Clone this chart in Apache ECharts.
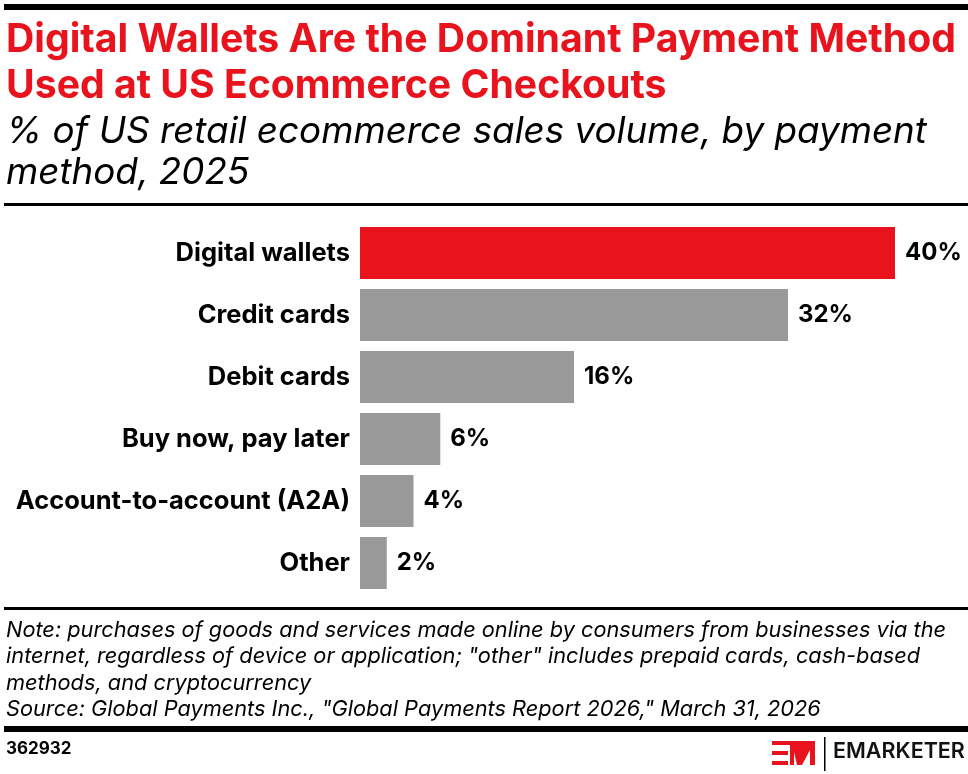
<!DOCTYPE html>
<html>
<head>
<meta charset="utf-8">
<script src="https://cdn.jsdelivr.net/npm/echarts@6/dist/echarts.min.js"></script>
<style>
html,body{margin:0;padding:0;background:#fff;}
#chart{width:968px;height:774px;}
</style>
</head>
<body>
<div id="chart"></div>
<script>
const categories = ["Digital wallets", "Credit cards", "Debit cards", "Buy now, pay later", "Account-to-account (A2A)", "Other"];
const values = [40, 32, 16, 6, 4, 2];
const barColors = ["#e8131d", "#999999", "#999999", "#999999", "#999999", "#999999"];

const titleLines = ["Digital Wallets Are the Dominant Payment Method", "Used at US Ecommerce Checkouts"];
const subtitleLines = ["% of US retail ecommerce sales volume, by payment", "method, 2025"];
const noteLines = [
  "Note: purchases of goods and services made online by consumers from businesses via the",
  "internet, regardless of device or application; \"other\" includes prepaid cards, cash-based",
  "methods, and cryptocurrency",
  "Source: Global Payments Inc., \"Global Payments Report 2026,\" March 31, 2026"
];
const chartId = "362932";

const FONT = "Inter";
const RED = "#e8131d";

const chart = echarts.init(document.getElementById('chart'), null, {renderer: 'canvas'});

const graphics = [];
// rules
graphics.push({type:'rect', shape:{x:4, y:4, width:964, height:6}, style:{fill:'#000'}});
graphics.push({type:'rect', shape:{x:4, y:203, width:964, height:3}, style:{fill:'#000'}});
graphics.push({type:'rect', shape:{x:4, y:607, width:964, height:3}, style:{fill:'#000'}});
graphics.push({type:'rect', shape:{x:4, y:726, width:964, height:6}, style:{fill:'#000'}});
// title
titleLines.forEach((t, i) => graphics.push({type:'text', left:6, top:20.5 + i*46,
  style:{text:t, font:`bold 39.2px ${FONT}`, fill:RED}}));
subtitleLines.forEach((t, i) => graphics.push({type:'text', left:6, top:113.5 + i*41,
  style:{text:t, font:`italic 36.8px ${FONT}`, fill:'#000'}}));
noteLines.forEach((t, i) => graphics.push({type:'text', left:6, top:619 + i*26.5,
  style:{text:t, font:`italic 21.75px ${FONT}`, fill:'#000'}}));
graphics.push({type:'text', left:6, top:740, style:{text:chartId, font:`bold 17px ${FONT}`, fill:'#000'}});
// logo
graphics.push({type:'rect', shape:{x:772, y:741, width:22, height:4}, style:{fill:RED}});
graphics.push({type:'rect', shape:{x:772, y:751, width:16, height:4}, style:{fill:RED}});
graphics.push({type:'rect', shape:{x:772, y:761, width:16, height:4}, style:{fill:RED}});
graphics.push({type:'polygon', shape:{points:[[794,741],[806,741],[815,741],[815,765],[810,765],[810,750],[802,765],[797,765],[794,752],[794,765],[790,765],[790,745]]}, style:{fill:RED}});
graphics.push({type:'rect', shape:{x:824, y:737, width:1.5, height:34}, style:{fill:'#000'}});
graphics.push({type:'text', left:833, top:741, style:{text:'EMARKETER', font:`600 21.5px ${FONT}`, fill:'#111'}});

chart.setOption({
  animation: false,
  backgroundColor: '#fff',
  grid: {left: 360, right: 73, top: 222, bottom: 180, containLabel: false},
  xAxis: {type: 'value', min: 0, max: 40, show: false},
  yAxis: {
    type: 'category', data: categories, inverse: true,
    axisLine: {show: false}, axisTick: {show: false},
    axisLabel: {color: '#000', fontFamily: FONT, fontWeight: 'bold', fontSize: 25.5, margin: 10}
  },
  series: [{
    type: 'bar',
    data: values.map((v, i) => ({value: v, itemStyle: {color: barColors[i]}})),
    barWidth: 52,
    label: {show: true, position: 'right', distance: 10, formatter: '{c}%',
      color: '#000', fontFamily: FONT, fontWeight: 'bold', fontSize: 24}
  }],
  graphic: graphics
});
</script>
</body>
</html>
